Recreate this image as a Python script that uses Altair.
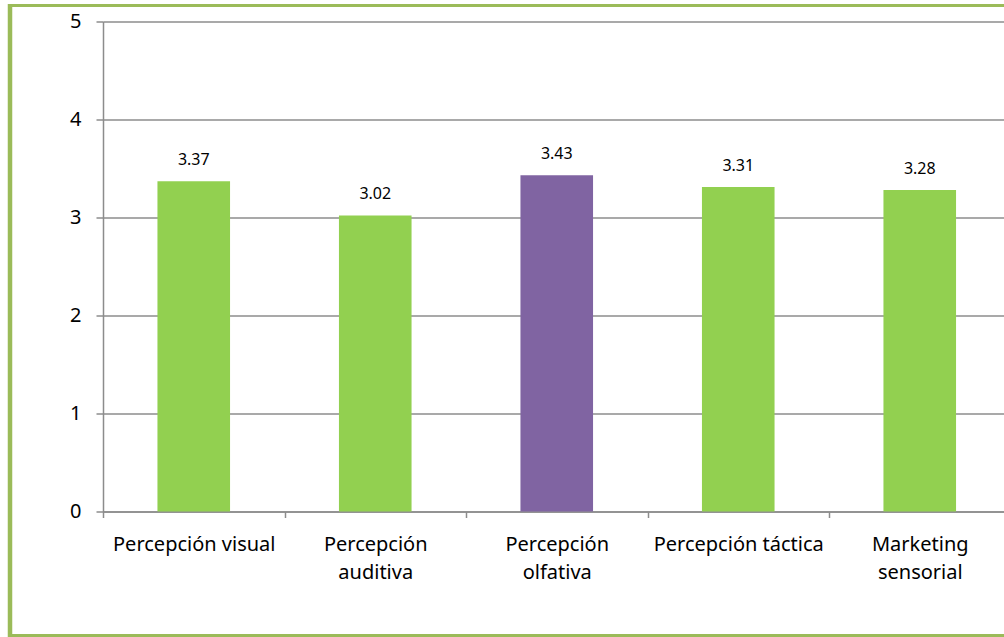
import altair as alt
import pandas as pd

# Mean score per dimension of sensory marketing
categories = [
    "Percepción visual",
    "Percepción auditiva",
    "Percepción olfativa",
    "Percepción táctica",
    "Marketing sensorial",
]
values = [3.37, 3.02, 3.43, 3.31, 3.28]
highlight = "Percepción olfativa"
wrapped = ["Percepción auditiva", "Percepción olfativa", "Marketing sensorial"]
y_ticks = [0, 1, 2, 3, 4, 5]

GREEN = "#92D050"
PURPLE = "#8064A2"
FRAME = "#9BBB59"
GRID = "#8c8c8c"
FONT = "Noto Sans"

df = pd.DataFrame({"categoria": categories, "media": values})

wrapped_list = "[" + ",".join("'" + w + "'" for w in wrapped) + "]"
label_expr = (
    f"indexof({wrapped_list}, datum.label) >= 0 ? split(datum.label, ' ') : datum.label"
)

x_enc = alt.X(
    "categoria:N",
    sort=categories,
    title=None,
    scale=alt.Scale(range=[0, 907.5], paddingInner=0, paddingOuter=0),
    axis=alt.Axis(
        labelAngle=0,
        tickBand="extent",
        tickSize=6,
        tickColor=GRID,
        tickWidth=1.5,
        domainColor=GRID,
        domainWidth=1.5,
        labelFont=FONT,
        labelFontSize=20,
        labelColor="#000000",
        labelPadding=17,
        labelLineHeight=28,
        labelBaseline="top",
        labelExpr=label_expr,
        grid=False,
    ),
)

y_enc = alt.Y(
    "media:Q",
    title=None,
    scale=alt.Scale(domain=[0, 5], nice=False),
    axis=alt.Axis(
        values=y_ticks,
        format="d",
        grid=True,
        gridColor=GRID,
        gridWidth=1.5,
        domainColor=GRID,
        domainWidth=1.5,
        tickColor=GRID,
        tickWidth=1.5,
        tickSize=7,
        labelFont=FONT,
        labelFontSize=20,
        labelColor="#000000",
        labelPadding=15,
    ),
)

base = alt.Chart(df)

bars = base.mark_bar(width=alt.RelativeBandSize(0.4)).encode(
    x=x_enc,
    y=y_enc,
    color=alt.condition(
        alt.datum.categoria == highlight, alt.value(PURPLE), alt.value(GREEN)
    ),
)

labels = base.mark_text(
    dy=-16.5, baseline="alphabetic", fontSize=16, font=FONT, color="#000000"
).encode(
    x=alt.X("categoria:N", sort=categories),
    y=alt.Y("media:Q"),
    text=alt.Text("media:Q", format=".2f"),
)

# Outer frame around the chart
one = alt.Chart(pd.DataFrame({"k": [0]}))
frame_left = one.mark_rule(color=FRAME, strokeWidth=4.5).encode(
    x=alt.value(-93), y=alt.value(-17.5), y2=alt.value(615.5)
)
frame_top = one.mark_rule(color=FRAME, strokeWidth=3).encode(
    x=alt.value(-95), x2=alt.value(910), y=alt.value(-16)
)
frame_bottom = one.mark_rule(color=FRAME, strokeWidth=3).encode(
    x=alt.value(-95), x2=alt.value(910), y=alt.value(614)
)

chart = (
    alt.layer(bars, labels, frame_left, frame_top, frame_bottom)
    .properties(
        width=901,
        height=490,
        autosize=alt.AutoSizeParams(type="none"),
        padding={"left": 103, "top": 21.5, "right": 0, "bottom": 125.5},
        background="#ffffff",
    )
    .configure_view(stroke=None)
)

chart.save("out.html", embed_options={"renderer": "svg", "actions": False})
